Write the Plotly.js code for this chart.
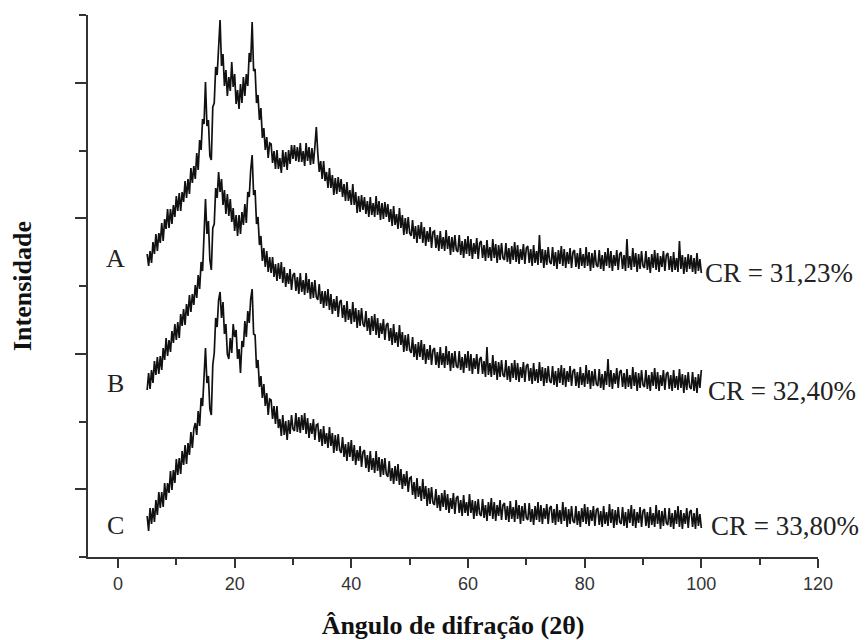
<!DOCTYPE html>
<html>
<head>
<meta charset="utf-8">
<script src="https://cdn.plot.ly/plotly-3.0.1.min.js"></script>
<style>html,body{margin:0;padding:0;background:#fff;}#chart{width:866px;height:640px;}</style>
</head>
<body>
<div id="chart"></div>
<script>
// Diffraction angle grid (2θ, degrees)
const angleStart = 5;
const angleStep = 0.25;

// Intensity (arbitrary units, curves already stacked)
const seriesA = [303,291,306,294,315,303,323,306,324,314,334,316,338,328,348,329,348,333,352,340,361,346,364,346,365,355,376,359,378,363,389,374,391,
378,404,387,417,407,438,433,475,431,437,401,397,450,454,490,482,514,537,491,503,471,487,461,480,466,495,470,483,453,467,448,473,454,480,461,483,471,504,495,535,486,488,454,462,437,449,419,429,407,420,399,414,
413,394,406,388,407,388,399,384,407,390,405,387,407,393,412,398,
412,396,410,395,414,395,406,391,414,396,410,392,409,393,410,430,
404,385,396,378,396,376,385,369,389,369,382,362,379,363,380,365,
378,360,373,356,375,356,367,352,373,352,365,344,361,345,362,347,
360,343,356,340,360,342,354,340,361,342,356,337,354,338,355,340,
353,335,348,331,351,332,343,328,349,329,342,322,339,323,340,324,
321,337,318,331,314,332,318,335,314,330,311,326,315,330,309,325,
326,309,322,306,326,308,320,306,327,308,321,302,320,305,322,307,
305,322,302,316,299,318,303,321,301,318,298,314,303,319,298,314,
316,299,312,296,317,299,310,296,318,299,313,294,312,297,314,299,
297,314,295,309,293,311,297,315,295,312,293,308,297,313,293,309,
311,294,308,291,312,294,306,292,322,294,308,289,307,292,310,295,
293,310,291,305,288,307,293,311,291,308,289,305,293,309,289,305,
307,290,304,288,309,291,303,289,310,291,305,286,304,289,307,292,
290,307,288,302,286,305,291,309,289,306,286,302,291,307,287,303,
305,288,302,286,318,289,301,287,309,290,304,285,303,288,306,291,
289,306,287,300,284,303,289,307,287,304,285,301,290,306,286,302,
304,287,301,285,305,287,299,285,316,288,302,283,300,285,303,288,
302,285,299,283,304,286,298,284];

const seriesB = [167,184,168,187,174,196,182,200,183,201,187,209,197,219,201,217,205,226,214,233,217,235,219,243,231,248,232,253,241,262,245,263,252,
272,259,282,268,295,286,324,358,323,336,297,287,329,333,369,359,385,365,378,352,367,343,363,341,358,335,349,326,342,321,342,323,345,332,353,334,365,360,387,402,362,367,333,340,312,321,296,309,290,306,285,300,
284,300,280,293,276,294,278,295,274,290,270,284,273,288,267,282,
284,266,280,263,284,265,277,262,284,264,278,258,275,259,277,260,
257,273,253,266,249,266,251,268,247,263,243,258,246,261,240,255,
257,239,252,235,256,237,248,233,255,235,249,229,247,231,249,233,
230,246,226,239,222,241,226,243,222,239,219,234,223,238,217,232,
234,216,229,212,233,214,225,210,232,212,225,205,222,206,223,207,
204,220,200,213,197,215,200,217,197,213,193,208,197,212,192,207,
209,192,205,189,210,192,204,189,211,192,206,186,204,189,206,191,
189,206,187,200,184,203,189,206,186,203,183,199,188,203,183,198,
200,183,196,180,210,182,194,180,202,182,196,177,195,180,197,182,
180,197,177,191,175,194,179,197,177,194,175,190,179,195,175,191,
193,176,189,173,194,176,188,174,195,176,190,171,189,174,191,176,
174,191,172,186,170,189,174,192,172,189,170,186,175,191,171,186,
188,171,185,169,190,172,184,170,192,173,187,168,186,171,188,173,
171,188,169,183,167,186,172,198,170,187,168,184,173,189,169,185,
187,170,184,168,188,170,182,168,190,171,185,166,184,169,187,172,
170,187,168,182,166,185,171,189,168,185,166,182,171,187,167,183,
185,168,182,166,187,169,181,167,188,169,183,164,182,167,185,170,
168,185,166,180,164,183,169,187];

const seriesC = [41,26,49,33,49,35,57,42,65,49,65,50,74,57,74,64,86,67,87,74,98,82,99,83,106,92,112,93,114,102,125,109,128,
134,122,146,131,159,151,185,209,174,181,148,142,192,204,239,230,257,265,239,255,223,233,203,198,219,204,233,220,227,198,208,184,216,210,236,220,246,234,258,268,223,222,189,197,170,181,159,173,151,164,142,158,
157,138,151,133,151,129,138,121,142,122,136,117,137,123,142,128,
126,144,125,140,124,142,127,144,123,139,119,134,123,138,117,132,
133,115,128,111,131,113,124,109,130,111,124,104,122,106,123,107,
104,120,100,113,96,115,100,117,96,112,92,107,96,111,90,105,
107,89,102,85,106,87,99,84,106,86,100,80,98,82,99,83,
80,96,76,89,73,91,76,93,72,88,68,83,71,86,65,79,
80,62,75,58,79,60,71,56,78,58,71,51,69,53,70,54,
52,68,49,62,46,64,50,67,47,63,44,59,48,64,43,59,
61,44,57,41,62,44,55,41,63,44,57,38,56,41,58,43,
41,58,39,52,36,55,41,59,38,55,36,52,41,57,37,52,
54,37,51,35,56,38,50,35,57,38,52,33,51,36,54,39,
37,54,35,48,32,51,37,55,35,52,33,49,38,53,33,49,
51,34,48,32,53,35,47,33,55,36,50,30,48,33,51,36,
34,51,32,46,30,49,35,53,33,50,31,47,36,51,31,47,
49,32,46,30,51,33,45,31,53,34,48,29,47,32,50,35,
33,50,31,45,29,48,34,52,31,48,29,45,34,50,30,46,
48,31,45,29,50,32,44,30,52,33,47,28,46,31,49,34,
32,49,30,44,28,47,33,51,30,47,28,44,33,49,29,45,
47,30,44,28,49,31,43,29];

const sampleLabels = ["A", "B", "C"];
const crystallinity = ["CR = 31,23%", "CR = 32,40%", "CR = 33,80%"];
const allSeries = [seriesA, seriesB, seriesC];

const xTitle = "Ângulo de difração (2θ)";
const yTitle = "Intensidade";

const traces = allSeries.map((ys, k) => ({
  type: "scatter",
  mode: "lines",
  x0: angleStart,
  dx: angleStep,
  y: ys,
  name: sampleLabels[k],
  line: {color: "#111", width: 1.7},
  hoverinfo: "skip"
}));

// label placement (layout, not data)
const labelY = [299, 174, 32];
const crX = [100.3, 100.8, 101.3];
const crY = [284, 166, 31];
const serif = "Liberation Serif, Times New Roman, serif";

const annotations = [];
sampleLabels.forEach((t, k) => {
  annotations.push({x: -0.35, y: labelY[k], xref: "x", yref: "y", text: t, showarrow: false,
    xanchor: "center", yanchor: "middle", font: {family: serif, size: 26, color: "#222"}});
  annotations.push({x: crX[k], y: crY[k], xref: "x", yref: "y", text: crystallinity[k], showarrow: false,
    xanchor: "left", yanchor: "middle", font: {family: serif, size: 27, color: "#222"}});
});

const layout = {
  width: 866, height: 640,
  margin: {l: 88, r: 48, t: 15, b: 83},
  paper_bgcolor: "#fff", plot_bgcolor: "#fff",
  showlegend: false,
  font: {family: "Liberation Sans, Arial, sans-serif", color: "#333"},
  xaxis: {
    range: [-5.14, 120], tickmode: "linear", tick0: 0, dtick: 20,
    ticks: "outside", ticklen: 9, tickwidth: 2, tickcolor: "#333",
    minor: {dtick: 10, ticks: "outside", ticklen: 6, tickwidth: 2, tickcolor: "#333"},
    showline: true, linecolor: "#333", linewidth: 2, showgrid: false, zeroline: false,
    tickfont: {size: 18, color: "#333"},
    title: {text: "<b>" + xTitle + "</b>", standoff: 26, font: {family: serif, size: 26, color: "#111"}}
  },
  yaxis: {
    range: [0, 542], tickmode: "linear", tick0: 67.75, dtick: 135.5,
    ticks: "outside", ticklen: 11, tickwidth: 2, tickcolor: "#333",
    minor: {dtick: 67.75, ticks: "outside", ticklen: 7, tickwidth: 2, tickcolor: "#333"},
    showline: true, linecolor: "#333", linewidth: 2, showgrid: false, zeroline: false,
    showticklabels: false,
    title: {text: "<b>" + yTitle + "</b>", standoff: 36, font: {family: serif, size: 26, color: "#111"}}
  },
  annotations: annotations
};

Plotly.newPlot("chart", traces, layout, {displayModeBar: false, staticPlot: true});
</script>
</body>
</html>
